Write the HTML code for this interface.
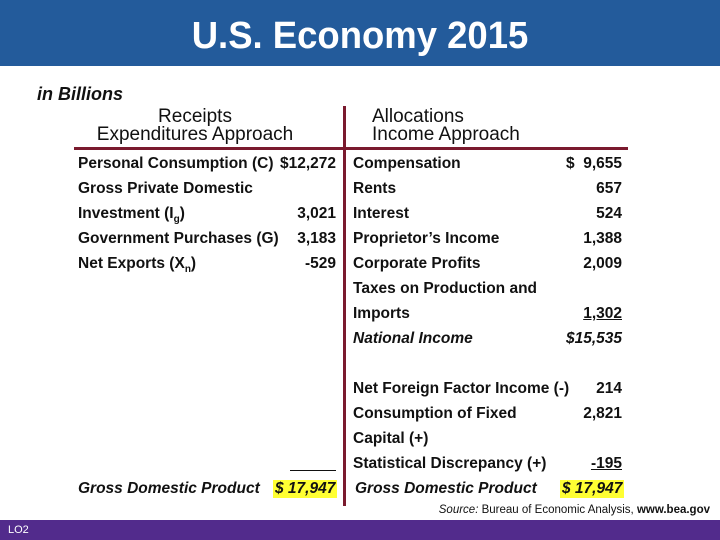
<!DOCTYPE html>
<html><head><meta charset="utf-8"><style>
body{margin:0;width:720px;height:540px;position:relative;background:#fff;font-family:"Liberation Sans",sans-serif;overflow:hidden}
.t{position:absolute;font-size:15.5px;font-weight:bold;color:#111;white-space:nowrap;line-height:18px}
.r{text-align:right}
.i{font-style:italic}
.hl{background:#ffff33}
</style></head><body>
<div style="position:absolute;left:0;top:0;width:720px;height:66px;background:#235b9b"></div>
<div style="position:absolute;left:0;top:12px;width:720px;text-align:center;color:#fff;font-size:38px;font-weight:bold;line-height:48px;transform:scaleX(0.96)">U.S. Economy 2015</div>
<div class="t i" style="left:37px;top:84px;font-size:18px;line-height:20px">in Billions</div>
<div class="t" style="left:80px;top:108px;width:230px;text-align:center;font-weight:normal;font-size:19px;line-height:18px">Receipts<br>Expenditures Approach</div>
<div class="t" style="left:372px;top:108px;font-weight:normal;font-size:19px;line-height:18px">Allocations<br>Income Approach</div>
<div style="position:absolute;left:74px;top:147px;width:554px;height:3px;background:#7a1a2e"></div>
<div style="position:absolute;left:343px;top:106px;width:3px;height:400px;background:#7a1a2e"></div>

<div class="t" style="left:78px;top:155px">Personal Consumption (C)</div>
<div class="t r" style="left:270px;top:155px;width:66px">$12,272</div>
<div class="t" style="left:78px;top:180px">Gross Private Domestic</div>
<div class="t" style="left:78px;top:205px">Investment (I<sub style="font-size:10px">g</sub>)</div>
<div class="t r" style="left:270px;top:205px;width:66px">3,021</div>
<div class="t" style="left:78px;top:230px">Government Purchases (G)</div>
<div class="t r" style="left:270px;top:230px;width:66px">3,183</div>
<div class="t" style="left:78px;top:255px">Net Exports (X<sub style="font-size:10px">n</sub>)</div>
<div class="t r" style="left:270px;top:255px;width:66px">-529</div>
<div style="position:absolute;left:290px;top:470px;width:46px;height:1px;background:#111"></div>
<div class="t i" style="left:78px;top:480px">Gross Domestic Product</div>
<div class="t i hl" style="left:273px;top:480px;padding:0 2px">$ 17,947</div>

<div class="t" style="left:353px;top:155px">Compensation</div>
<div class="t r" style="left:530px;top:155px;width:92px">$ &nbsp;9,655</div>
<div class="t" style="left:353px;top:180px">Rents</div>
<div class="t r" style="left:530px;top:180px;width:92px">657</div>
<div class="t" style="left:353px;top:205px">Interest</div>
<div class="t r" style="left:530px;top:205px;width:92px">524</div>
<div class="t" style="left:353px;top:230px">Proprietor’s Income</div>
<div class="t r" style="left:530px;top:230px;width:92px">1,388</div>
<div class="t" style="left:353px;top:255px">Corporate Profits</div>
<div class="t r" style="left:530px;top:255px;width:92px">2,009</div>
<div class="t" style="left:353px;top:280px">Taxes on Production and</div>
<div class="t" style="left:353px;top:305px">Imports</div>
<div class="t r" style="left:530px;top:305px;width:92px;text-decoration:underline">1,302</div>
<div class="t i" style="left:353px;top:330px">National Income</div>
<div class="t r i" style="left:530px;top:330px;width:92px">$15,535</div>
<div class="t" style="left:353px;top:380px">Net Foreign Factor Income (-)</div>
<div class="t r" style="left:530px;top:380px;width:92px">214</div>
<div class="t" style="left:353px;top:405px">Consumption of Fixed</div>
<div class="t r" style="left:530px;top:405px;width:92px">2,821</div>
<div class="t" style="left:353px;top:430px">Capital (+)</div>
<div class="t" style="left:353px;top:455px">Statistical Discrepancy (+)</div>
<div class="t r" style="left:530px;top:455px;width:92px;text-decoration:underline">-195</div>
<div class="t i" style="left:355px;top:480px">Gross Domestic Product</div>
<div class="t i hl" style="left:560px;top:480px;padding:0 2px">$ 17,947</div>

<div class="t" style="left:400px;top:503px;width:310px;text-align:right;font-size:11.5px;font-weight:normal;line-height:14px"><i>Source:</i> Bureau of Economic Analysis, <b>www.bea.gov</b></div>
<div style="position:absolute;left:0;top:520px;width:720px;height:20px;background:#522b8c"></div>
<div class="t" style="left:8px;top:522px;color:#fff;font-size:11px;font-weight:normal;line-height:16px">LO2</div>
</body></html>
